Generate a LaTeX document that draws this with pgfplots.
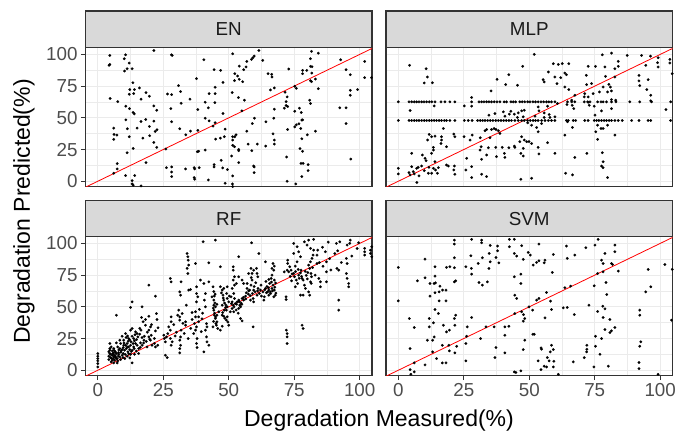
\documentclass[border=0pt]{standalone}
\usepackage{pgfplots}
\pgfplotsset{compat=1.18}
\usepackage{pgfplotstable}
\usepackage{fontspec}
\setmainfont{Liberation Sans}
\definecolor{g92}{HTML}{EBEBEB}
\definecolor{g20}{HTML}{333333}
\definecolor{g30}{HTML}{4D4D4D}
\definecolor{g85}{HTML}{D9D9D9}
\definecolor{g10}{HTML}{1A1A1A}

\pgfplotstableread{
x y
4.6 99.2
10.6 99.7
4.3 91.4
4.6 92.1
10.1 96.6
12.0 93.2
10.2 86.9
11.2 88.7
13.1 88.7
13.4 77.7
12.2 72.3
14.0 72.3
15.9 73.6
13.7 69.1
12.0 68.6
4.7 65.2
7.6 62.8
16.5 64.7
18.4 69.9
19.7 67.0
10.7 59.2
12.1 57.3
13.5 54.2
13.9 53.1
21.4 59.4
22.5 56.0
10.7 48.4
16.5 47.1
18.3 48.7
21.4 47.4
6.1 41.9
11.3 41.4
15.0 41.9
19.7 43.2
21.9 39.3
22.6 40.6
6.2 36.9
7.3 36.4
6.1 33.0
12.0 35.1
17.2 34.0
19.8 35.9
21.4 30.6
22.5 26.7
13.5 25.9
11.2 22.5
7.4 13.9
7.4 9.7
6.1 6.3
10.6 4.5
14.1 4.5
13.1 0.5
13.1 -2.1
13.5 -3.1
16.5 -3.7
18.4 14.7
21.4 103.1
28.1 99.7
28.4 99.2
40.5 95.8
30.8 75.4
31.6 70.7
26.6 68.8
28.2 68.3
35.2 64.7
31.8 61.5
27.9 57.3
28.2 46.9
31.3 41.4
35.4 39.5
33.6 36.6
37.7 80.9
44.8 74.1
44.8 69.1
42.5 69.1
41.0 62.3
44.7 62.0
42.2 57.9
38.2 56.5
47.8 53.4
41.0 49.7
42.5 47.6
44.8 46.1
44.0 43.5
38.2 40.1
45.0 33.2
46.8 34.0
48.6 41.1
48.3 35.1
38.0 23.3
38.5 23.6
41.0 24.6
26.0 25.4
44.4 88.0
46.9 87.4
47.8 78.0
26.2 10.7
28.2 11.3
28.2 7.3
28.2 3.7
33.5 9.7
36.8 10.7
37.0 9.7
36.8 2.9
37.0 1.6
38.7 10.7
42.2 1.0
44.4 13.1
44.4 11.3
47.1 16.5
47.7 10.5
48.6 -1.6
51.5 -4.2
49.5 9.2
51.1 19.9
51.5 100.5
59.7 98.7
59.2 97.4
58.7 96.1
56.9 94.5
54.0 90.8
56.6 90.1
55.7 88.0
52.3 84.8
53.4 83.0
52.2 79.3
54.0 80.4
55.3 78.5
61.5 103.1
63.0 95.3
51.3 69.9
53.7 66.0
56.0 63.9
55.0 55.5
59.8 49.7
59.0 45.5
56.9 39.5
52.8 36.6
51.5 35.1
52.3 35.1
51.5 32.5
51.5 28.3
52.2 27.2
53.8 25.1
53.8 24.1
57.4 29.3
58.8 24.1
60.9 29.3
64.2 46.9
59.5 12.0
59.7 11.3
59.7 6.8
53.8 14.7
51.5 4.2
51.4 -2.1
65.0 84.8
66.4 84.3
66.5 82.2
65.9 72.0
67.4 73.6
72.9 88.5
71.5 70.2
75.8 73.3
75.2 74.9
72.3 66.5
71.9 62.8
71.9 59.7
72.5 58.9
71.2 57.6
67.4 56.8
75.2 55.2
77.0 57.6
77.7 54.2
67.2 49.7
66.9 37.4
67.4 32.5
67.4 29.3
64.1 27.7
72.5 40.8
75.2 42.9
75.8 44.5
76.8 45.3
77.9 48.2
78.2 48.4
77.5 41.6
80.0 36.6
77.9 33.5
83.1 39.5
81.6 102.4
84.2 101.0
81.2 96.6
78.2 87.4
78.2 84.8
79.8 87.4
81.2 90.6
81.8 90.3
81.7 85.3
83.1 80.6
81.2 79.3
81.6 78.5
84.2 73.0
80.9 63.9
81.2 61.3
75.6 -2.1
72.3 0.0
72.1 19.1
77.2 25.7
78.2 23.6
77.6 14.1
78.4 14.1
80.3 13.1
80.3 8.4
77.9 3.7
92.7 95.8
94.8 88.0
96.4 84.0
101.9 94.5
101.9 81.7
104.5 81.7
96.4 71.7
96.4 67.8
99.2 72.3
92.4 57.9
94.8 57.9
94.8 45.5
96.6 17.5
}\dataEN

\pgfplotstableread{
x y
0 62.6
4.1 62.6
5.1 62.6
6.1 62.6
7.0 62.6
7.9 62.6
8.9 62.6
9.8 62.6
10.8 62.6
11.8 62.6
12.8 62.6
14.0 62.6
16.3 62.6
17.8 62.6
19.7 62.6
21.6 62.6
28.0 62.6
30.8 62.6
31.8 62.6
32.7 62.6
33.7 62.6
34.6 62.6
35.6 62.6
36.6 62.6
37.7 62.6
38.8 62.6
40.4 62.6
41.3 62.6
43.0 62.6
43.9 62.6
44.8 62.6
46.4 62.6
47.3 62.6
48.3 62.6
49.4 62.6
50.3 62.6
51.4 62.6
52.4 62.6
53.4 62.6
54.5 62.6
55.5 62.6
56.6 62.6
57.5 62.6
58.5 62.6
59.8 62.6
64.6 62.6
66.2 62.6
67.4 62.6
71.0 62.6
72.3 62.6
73.2 62.6
76.1 62.6
77.4 62.6
78.2 62.6
79.5 62.6
81.4 62.6
83.1 62.6
88.4 62.6
92.2 62.6
96.7 62.6
104.0 62.6
0 47.9
4.1 47.9
5.1 47.9
6.1 47.9
7.0 47.9
7.9 47.9
8.9 47.9
9.9 47.9
10.8 47.9
11.8 47.9
12.7 47.9
13.7 47.9
14.6 47.9
15.6 47.9
16.5 47.9
17.6 47.9
18.4 47.9
19.7 47.9
21.6 47.9
25.2 47.9
26.7 47.9
28.2 47.9
30.3 47.9
31.3 47.9
32.2 47.9
33.1 47.9
34.1 47.9
35.1 47.9
36.1 47.9
37.2 47.9
38.2 47.9
39.2 47.9
40.2 47.9
41.2 47.9
42.2 47.9
43.2 47.9
44.5 47.9
45.8 47.9
47.1 47.9
48.1 47.9
49.4 47.9
50.4 47.9
51.5 47.9
52.4 47.9
53.4 47.9
54.7 47.9
56.0 47.9
57.3 47.9
58.5 47.9
59.8 47.9
64.2 47.9
64.9 47.9
66.8 47.9
67.7 47.9
71.2 47.9
72.5 47.9
74.8 47.9
75.7 47.9
76.6 47.9
77.6 47.9
78.6 47.9
79.5 47.9
80.5 47.9
81.4 47.9
82.7 47.9
84.0 47.9
85.5 47.9
89.1 47.9
91.9 47.9
95.4 47.9
96.4 47.9
104.0 47.9
4.3 91.4
10.6 88.7
11.1 82.2
9.9 77.5
13.0 77.7
4.5 55.8
13.7 59.4
25.2 59.4
28.0 66.0
28.0 59.2
51.9 100.0
77.9 99.7
81.4 101.0
87.4 99.2
92.9 99.2
96.3 98.7
99.2 97.4
103.7 96.1
103.7 93.2
99.0 93.5
99.2 90.1
94.5 91.4
84.0 94.5
84.0 90.6
78.9 90.1
82.7 88.7
75.3 90.6
72.5 90.6
65.1 92.7
61.1 92.1
59.2 92.7
62.6 92.7
57.3 86.1
63.6 85.3
64.2 84.0
55.3 80.1
55.7 78.3
59.8 82.2
62.0 81.7
60.6 77.0
63.6 74.3
65.1 72.3
47.5 90.6
42.2 84.0
37.7 80.4
41.0 76.2
45.5 75.7
35.4 71.2
71.8 83.5
71.9 76.2
73.8 77.0
79.1 82.7
80.4 76.4
78.2 74.3
81.0 74.3
82.7 82.2
91.9 83.5
91.9 79.1
92.2 75.4
95.4 80.1
94.9 72.3
96.4 67.8
96.4 63.4
102.2 56.5
104.6 84.8
71.2 69.1
72.5 66.5
74.4 69.1
76.8 70.4
79.9 70.4
81.4 71.2
67.4 67.8
66.2 63.9
66.4 59.9
67.0 57.3
71.0 66.5
72.5 62.3
72.9 59.9
74.8 59.2
77.6 55.5
81.4 64.4
81.4 57.3
83.0 63.9
64.4 60.5
60.8 61.3
57.0 59.2
53.4 58.6
53.7 55.5
55.7 53.9
57.6 52.6
34.6 52.1
36.9 53.4
40.1 54.7
40.7 51.3
42.4 52.9
43.0 55.2
44.3 52.9
45.8 53.9
47.1 55.5
48.1 56.0
47.7 50.8
45.5 50.3
52.2 51.3
49.4 46.1
50.9 44.2
52.8 42.4
53.4 39.0
54.7 45.5
55.7 50.3
57.9 50.3
59.8 50.8
64.6 46.9
66.5 42.4
75.1 52.1
76.1 44.2
77.4 41.6
78.2 41.6
75.4 39.0
76.1 33.0
82.7 36.4
79.9 44.2
63.6 36.4
57.0 30.4
49.0 31.2
49.9 31.2
50.9 29.8
48.1 32.5
47.1 35.1
46.4 31.2
44.5 26.7
42.2 26.4
44.3 27.7
47.7 25.9
47.7 19.9
46.8 22.0
53.4 26.7
53.7 21.5
59.8 22.0
50.9 2.4
46.8 1.6
63.9 6.3
66.5 5.0
67.4 18.8
72.0 22.0
77.9 22.5
77.6 12.0
78.2 10.7
78.2 15.4
79.9 2.9
37.5 19.4
37.2 26.7
40.5 22.0
40.7 18.8
39.7 26.7
34.4 26.4
33.1 39.8
33.7 40.8
35.6 40.8
36.6 41.6
37.3 40.8
38.2 39.8
35.0 34.3
38.8 37.7
33.7 20.7
31.8 17.3
31.6 27.2
26.1 18.1
28.0 11.5
25.8 8.9
28.0 2.9
31.8 5.5
33.7 3.7
25.1 35.1
27.4 32.5
28.2 36.4
31.3 34.3
31.2 24.6
21.6 35.1
21.2 37.2
18.4 27.2
17.2 41.6
16.5 35.1
16.5 32.5
16.3 29.8
14.0 35.6
13.4 26.7
13.4 24.6
11.8 36.9
12.7 35.1
11.2 32.5
12.7 22.0
9.2 20.7
10.2 18.1
10.6 16.2
14.0 15.4
5.1 22.0
0 10.2
0 5.8
4.1 6.8
5.1 11.5
5.7 7.6
6.1 5.8
7.0 10.2
7.6 11.0
7.9 4.2
8.9 12.0
9.9 8.4
11.5 6.3
11.7 11.0
12.7 6.3
13.4 10.2
14.2 8.9
14.9 6.3
15.3 10.7
18.4 12.8
19.1 12.0
21.4 12.0
21.6 5.5
21.2 8.9
7.1 -1.0
4.5 5.0
}\dataMLP

\pgfplotstableread{
x y
0 13.2
0 11.1
0 9.2
0 7.4
0 5.3
0 2.6
4.2 14.5
4.6 13.2
4.2 11.1
4.8 10.0
5.5 11.8
5.9 9.2
6.4 7.9
5.1 6.6
4.2 8.4
6.7 11.1
7.1 13.2
7.4 9.2
7.6 7.4
4.6 15.8
5.5 15.3
6.1 13.7
6.7 14.5
8.0 12.6
8.4 10.5
8.7 8.4
6.1 5.8
7.4 5.8
9.3 11.8
8.9 15.3
8.4 17.1
9.7 13.2
10.2 15.8
10.9 17.1
11.5 14.5
11.8 18.4
12.5 19.7
13.1 15.8
13.7 18.4
14.4 21.1
15.0 19.7
15.6 17.1
16.3 21.6
16.9 19.7
11.2 21.1
9.9 23.7
9.3 26.8
10.6 28.9
12.5 31.6
13.1 32.9
11.8 25.0
13.7 25.0
15.0 28.9
16.0 28.4
16.9 25.8
17.6 23.7
17.8 26.8
15.6 13.2
14.0 12.6
12.5 12.6
13.1 5.8
11.2 11.1
10.3 9.2
12.2 9.7
8.7 21.1
7.1 21.6
7.1 43.4
4.6 21.1
4.6 17.1
13.1 53.9
12.5 49.5
16.9 50.0
19.5 67.1
16.7 41.6
18.2 40.0
19.5 42.6
20.1 34.2
19.5 31.6
22.0 58.4
22.4 44.7
22.6 40.0
19.5 26.3
20.1 23.7
21.6 25.0
21.6 21.1
22.0 18.4
22.9 19.7
5.5 7.9
6.1 10.5
7.1 9.2
7.8 11.1
4.8 12.6
5.7 13.2
6.5 11.8
9.7 17.9
10.6 19.7
11.2 18.4
12.2 16.3
12.7 22.4
13.5 21.1
14.0 23.2
14.8 24.2
15.3 26.3
9.9 19.7
9.3 16.3
11.6 22.9
10.8 25.8
13.1 26.8
14.4 30.3
16.5 31.6
18.2 35.5
17.3 38.2
18.8 18.4
20.4 27.6
20.7 19.7
8.4 23.7
7.6 18.4
6.1 17.1
5.1 18.4
6.8 10.3
7.9 13.9
8.8 14.2
9.6 10.0
10.5 12.5
11.8 13.0
12.8 14.8
13.9 17.0
14.7 15.1
16.2 18.0
17.5 21.5
18.5 22.8
19.8 24.5
5.2 9.5
5.8 12.5
6.3 15.5
8.0 16.0
10.0 21.5
11.4 27.0
12.2 24.0
14.2 28.0
16.0 33.0
18.9 30.0
20.5 36.0
22.0 31.0
23.0 33.5
25.2 27.6
25.4 25.0
25.8 22.4
26.2 26.3
26.7 28.9
27.1 34.2
27.7 25.0
28.0 19.7
28.4 22.4
27.7 31.6
25.8 11.8
26.5 10.0
28.0 42.1
28.0 38.2
27.7 72.4
28.0 69.7
31.3 17.1
31.3 13.7
31.6 19.7
31.3 23.7
31.6 26.3
31.8 31.6
31.8 69.7
30.9 47.4
30.5 43.4
31.3 42.1
32.2 44.7
31.3 39.5
31.6 59.2
31.3 61.8
33.5 38.2
33.5 35.5
33.8 51.3
34.1 92.1
34.4 89.5
34.5 86.8
34.1 80.3
34.4 76.3
34.7 82.9
34.7 63.2
35.4 63.7
37.3 84.2
37.7 65.8
37.7 60.5
37.7 53.9
38.2 57.9
37.3 46.1
37.3 42.1
36.9 36.8
37.7 34.2
37.3 31.6
36.6 28.9
37.9 25.0
37.7 21.1
37.9 17.9
38.5 42.1
38.5 38.2
39.2 71.1
40.2 101.3
40.5 68.4
41.1 60.5
40.7 55.3
41.1 50.0
41.5 36.8
41.1 31.6
41.5 26.3
41.7 22.4
42.4 19.7
41.7 34.2
40.5 14.5
29.0 36.0
30.0 30.0
32.5 37.0
33.0 29.0
35.5 33.0
36.0 40.0
39.8 40.5
40.0 45.0
38.8 48.0
36.0 45.5
29.5 27.0
34.5 25.0
39.5 30.5
42.4 84.7
42.4 69.7
44.0 65.8
43.6 57.9
44.3 55.3
44.3 51.3
44.9 50.0
44.3 47.4
44.5 43.4
44.9 40.8
45.5 38.2
45.3 35.5
45.8 32.9
44.3 62.0
44.5 58.5
44.7 53.0
44.1 49.0
44.6 45.0
45.0 42.0
44.2 38.5
45.1 36.8
44.8 60.0
45.5 52.0
44.9 102.6
46.8 81.6
46.8 65.8
47.5 63.2
47.8 59.2
48.1 55.3
47.5 51.3
48.3 47.4
47.5 43.4
49.4 42.1
49.1 39.5
50.0 35.5
47.5 34.7
47.2 61.0
47.9 57.0
48.4 53.0
48.8 49.5
47.7 45.5
48.5 41.0
49.7 38.0
49.2 60.5
50.2 58.5
48.9 51.5
48.1 64.5
49.4 65.8
49.4 56.6
50.0 53.9
51.3 53.9
51.7 51.3
51.3 48.7
51.9 46.1
52.2 56.6
52.5 52.6
53.2 53.9
53.8 55.3
54.2 51.3
54.5 50.0
53.8 48.7
51.0 52.5
52.0 50.0
53.0 52.0
54.0 54.0
55.0 52.0
52.8 47.5
53.6 45.0
54.7 53.0
55.6 57.5
56.5 56.2
55.1 56.6
55.7 55.3
56.4 58.4
56.7 61.1
57.6 62.6
57.0 64.5
58.5 67.1
58.9 71.1
58.9 76.3
58.5 80.3
59.5 78.9
60.6 80.3
60.8 76.3
61.1 73.7
57.5 60.0
58.2 58.8
59.0 60.5
60.0 61.8
61.0 62.5
59.7 66.0
60.3 69.0
61.2 64.5
62.5 58.5
58.6 73.0
53.8 89.5
51.7 81.6
51.7 78.9
52.2 73.7
51.7 71.1
52.2 67.1
51.3 64.5
54.5 40.8
55.1 38.9
57.6 76.3
58.3 55.3
59.3 56.6
59.5 53.9
59.3 34.2
61.5 92.1
58.7 100.5
64.0 85.5
64.0 64.5
63.1 61.8
63.6 57.9
63.4 55.3
64.4 61.1
65.3 63.2
65.9 61.8
66.5 64.5
66.9 67.1
67.4 71.1
67.4 63.2
67.8 59.2
67.2 57.9
65.3 59.2
66.5 75.0
66.9 84.2
67.2 78.9
67.4 82.1
66.5 80.3
65.6 68.4
64.9 61.8
63.8 63.5
64.6 66.0
65.2 65.0
66.0 60.5
66.7 62.6
67.6 65.5
68.0 60.8
66.3 69.5
64.2 70.0
67.9 68.8
71.9 57.9
71.9 55.8
72.0 31.6
72.3 28.9
72.3 26.3
72.3 21.1
71.2 77.6
72.3 78.9
72.9 77.6
73.8 78.9
73.3 81.6
72.5 84.2
72.5 86.8
74.8 100.0
74.8 76.3
75.1 73.7
75.8 71.1
76.3 68.4
75.4 65.8
76.7 75.0
77.4 76.8
77.6 78.9
78.0 72.4
78.4 71.1
78.9 67.1
79.3 64.5
77.4 59.2
78.4 59.2
80.5 61.8
80.9 59.2
81.2 69.7
81.6 73.7
81.4 76.3
80.9 80.3
80.5 82.9
81.2 85.5
81.8 88.2
82.2 90.8
82.4 94.7
81.2 96.1
79.9 98.7
78.9 101.3
80.5 102.6
82.4 103.2
76.1 97.4
76.7 93.4
77.4 89.5
76.1 85.5
75.4 82.1
74.8 92.1
73.5 74.0
74.2 76.0
75.5 77.8
76.5 79.5
77.8 74.0
79.2 78.0
80.2 77.0
82.0 81.0
79.6 74.8
74.0 70.5
76.9 72.5
81.5 68.5
83.0 75.0
80.0 72.0
83.7 90.8
84.0 94.7
86.9 93.4
87.3 85.5
87.3 77.6
87.3 69.7
84.4 72.4
85.0 69.7
85.0 65.8
83.7 84.2
84.6 85.0
86.0 82.0
88.5 88.0
89.0 79.0
90.5 92.0
93.0 85.0
97.0 90.0
99.0 96.0
85.8 97.0
88.0 101.0
78.0 35.5
78.4 32.9
92.0 55.3
92.0 47.4
91.3 80.3
92.0 78.9
91.1 100.0
92.4 101.3
91.6 94.2
94.9 88.2
95.2 84.2
94.9 76.3
95.2 72.4
95.8 68.4
95.8 65.8
96.4 102.6
95.2 98.7
96.2 100.0
99.6 100.5
101.9 96.1
101.9 93.4
101.9 90.8
104.1 94.7
104.1 92.1
104.6 97.4
104.6 89.5
65.3 71.6
66.2 72.4
62.3 67.1
62.1 63.2
61.7 60.5
60.8 59.2
59.5 63.2
58.0 63.2
57.0 68.4
55.7 68.4
55.1 71.1
53.8 73.7
52.9 68.4
51.9 60.5
50.9 57.9
50.6 46.1
49.4 50.0
48.1 42.6
46.2 46.1
45.5 43.4
44.0 34.2
46.8 31.6
49.1 47.4
}\dataRF

\pgfplotstableread{
x y
0 81.1
0 54.7
4.2 40.8
4.5 17.1
4.5 0.5
4.8 -3.2
6.1 33.7
6.1 5.8
6.1 -1.3
7.3 70.5
10.2 87.6
10.2 72.9
10.2 4.2
11.1 23.7
11.8 40.8
11.8 34.2
12.1 68.4
13.7 68.4
14.0 81.6
14.0 74.2
14.2 68.9
14.0 47.9
13.7 26.3
13.4 37.4
13.1 23.7
13.1 14.5
14.6 9.2
15.3 44.7
15.9 66.3
15.6 61.8
16.9 63.2
18.2 63.2
15.6 54.7
18.2 54.7
12.1 58.4
14.0 61.1
17.2 35.5
18.4 30.3
16.8 5.8
18.2 5.8
19.5 31.6
19.7 81.6
18.4 81.1
21.4 102.6
21.4 99.5
21.4 88.7
21.4 80.8
21.4 69.7
21.9 70.5
21.4 40.8
21.9 43.4
21.6 35.5
22.3 18.9
21.6 13.7
19.5 15.3
16.8 19.7
19.3 19.7
28.0 103.2
31.8 102.6
31.8 100.5
27.7 90.3
27.9 80.3
28.0 75.8
25.8 81.6
25.8 21.1
25.8 7.4
26.1 26.8
26.3 34.2
28.0 41.6
30.5 84.2
32.1 88.7
30.8 69.2
32.1 67.1
34.0 69.7
34.7 92.1
35.1 85.5
35.1 98.4
34.6 80.3
37.9 97.9
37.9 94.2
38.4 84.7
37.3 88.9
33.5 34.2
36.6 34.2
31.4 25.0
37.3 17.9
36.9 10.0
40.7 34.2
42.2 34.7
40.7 27.6
40.7 13.7
42.4 103.2
44.3 103.2
42.4 97.4
44.3 92.1
45.2 90.0
47.1 98.2
47.7 87.4
46.8 75.8
46.8 68.4
44.3 73.7
44.5 59.2
45.2 56.6
44.5 44.7
47.1 46.1
47.8 43.9
48.3 40.8
47.7 38.7
49.9 50.0
51.3 47.4
49.6 92.9
50.4 90.8
51.5 82.9
52.8 85.0
53.7 86.3
56.0 86.8
55.7 84.7
53.7 99.5
59.2 91.3
58.8 77.1
51.4 28.4
48.3 23.7
47.7 16.3
44.3 -1.3
44.9 -1.8
46.8 -0.5
53.4 7.4
54.5 17.6
54.7 16.6
58.5 19.7
59.2 16.3
58.0 14.5
56.9 10.0
57.6 7.4
59.2 2.6
55.7 3.2
54.5 0.5
56.6 2.6
61.1 -3.2
59.4 7.1
64.2 97.9
64.5 88.2
67.4 90.8
66.8 6.6
71.6 96.6
71.0 10.0
72.0 19.7
72.0 16.6
71.9 14.5
75.1 98.7
75.3 26.8
75.3 18.9
74.7 2.6
77.0 12.6
80.2 3.2
77.6 86.8
78.2 84.2
78.9 92.1
81.4 84.2
81.8 83.4
82.7 98.7
82.7 93.4
84.0 78.2
76.1 76.3
78.2 77.6
79.3 69.2
74.8 66.6
79.6 59.7
72.8 51.3
76.1 46.3
78.1 50.5
78.9 48.4
78.2 41.6
80.8 40.0
82.7 33.7
81.4 31.1
80.8 29.7
78.9 32.1
77.6 25.0
76.3 103.2
52.8 55.3
53.7 56.6
56.6 61.3
58.1 54.5
51.9 28.4
56.0 41.3
58.5 47.9
63.0 49.2
64.5 49.5
67.2 43.9
63.6 65.0
65.8 66.3
95.4 79.5
101.8 83.4
104.6 79.5
96.4 65.8
94.5 61.8
92.2 47.4
92.2 43.4
92.6 22.4
92.2 18.9
91.9 6.1
91.9 1.3
99.2 -3.2
104.3 39.5
}\dataSVM

\pgfplotsset{
  panel/.style={
    scale only axis, width=286.5pt, height=139pt,
    xmin=-4.7, xmax=104.7, ymin=-4.3, ymax=105.3,
    xtick={0,25,50,75,100}, ytick={0,25,50,75,100},
    minor xtick={12.5,37.5,62.5,87.5}, minor ytick={12.5,37.5,62.5,87.5},
    grid=both,
    major grid style={draw=g92, line width=1.2pt},
    minor grid style={draw=g92, line width=0.6pt},
    axis line style={draw=g20, line width=1.1pt},
    tick align=outside, major tick length=4.5pt, minor tick length=0pt,
    tick style={draw=g20, line width=1.1pt},
    xtick pos=bottom, ytick pos=left,
    ticklabel style={font=\fontsize{18.8}{20}\selectfont, text=g30},
    /pgf/number format/assume math mode=true,
  },
  pts/.style={only marks, mark=*, mark size=1.3pt, draw=black, fill=black, mark options={line width=0.2pt}},
  diag/.style={red, line width=0.8pt, no marks},
}

\begin{document}
\begin{tikzpicture}[x=1pt,y=1pt]
\useasboundingbox (0,0) rectangle (678,432);
% top-left EN
\begin{axis}[panel, at={(85.5pt,245.3pt)}, anchor=south west, xmajorticks=false]
\addplot[pts] table[x=x,y=y] {\dataEN};
\addplot[diag] coordinates {(-10,-10) (110,110)};
\end{axis}
% top-right MLP
\begin{axis}[panel, at={(386pt,245.3pt)}, anchor=south west, xmajorticks=false, ymajorticks=false]
\addplot[pts] table[x=x,y=y] {\dataMLP};
\addplot[diag] coordinates {(-10,-10) (110,110)};
\end{axis}
% bottom-left RF
\begin{axis}[panel, at={(85.5pt,56.3pt)}, anchor=south west]
\addplot[pts] table[x=x,y=y] {\dataRF};
\addplot[diag] coordinates {(-10,-10) (110,110)};
\end{axis}
% bottom-right SVM
\begin{axis}[panel, at={(386pt,56.3pt)}, anchor=south west, ymajorticks=false]
\addplot[pts] table[x=x,y=y] {\dataSVM};
\addplot[diag] coordinates {(-10,-10) (110,110)};
\end{axis}
% strips
\tikzset{strip/.style={draw=g20, line width=1.1pt, fill=g85}, striplab/.style={text=g10, font=\fontsize{18.8}{20}\selectfont}}
\draw[strip] (85.5,384.3) rectangle (372,421);
\node[striplab] at (228.75,402.6) {EN};
\draw[strip] (386,384.3) rectangle (672.5,421);
\node[striplab] at (529.25,402.6) {MLP};
\draw[strip] (85.5,195.3) rectangle (372,231.5);
\node[striplab] at (228.75,213.4) {RF};
\draw[strip] (386,195.3) rectangle (672.5,231.5);
\node[striplab] at (529.25,213.4) {SVM};
% axis titles
\node[anchor=base, font=\fontsize{23}{26}\selectfont] at (379,5.5) {Degradation Measured(\%)};
\node[anchor=base, rotate=90, font=\fontsize{23}{26}\selectfont] at (30,220.5) {Degradation Predicted(\%)};
\end{tikzpicture}
\end{document}
